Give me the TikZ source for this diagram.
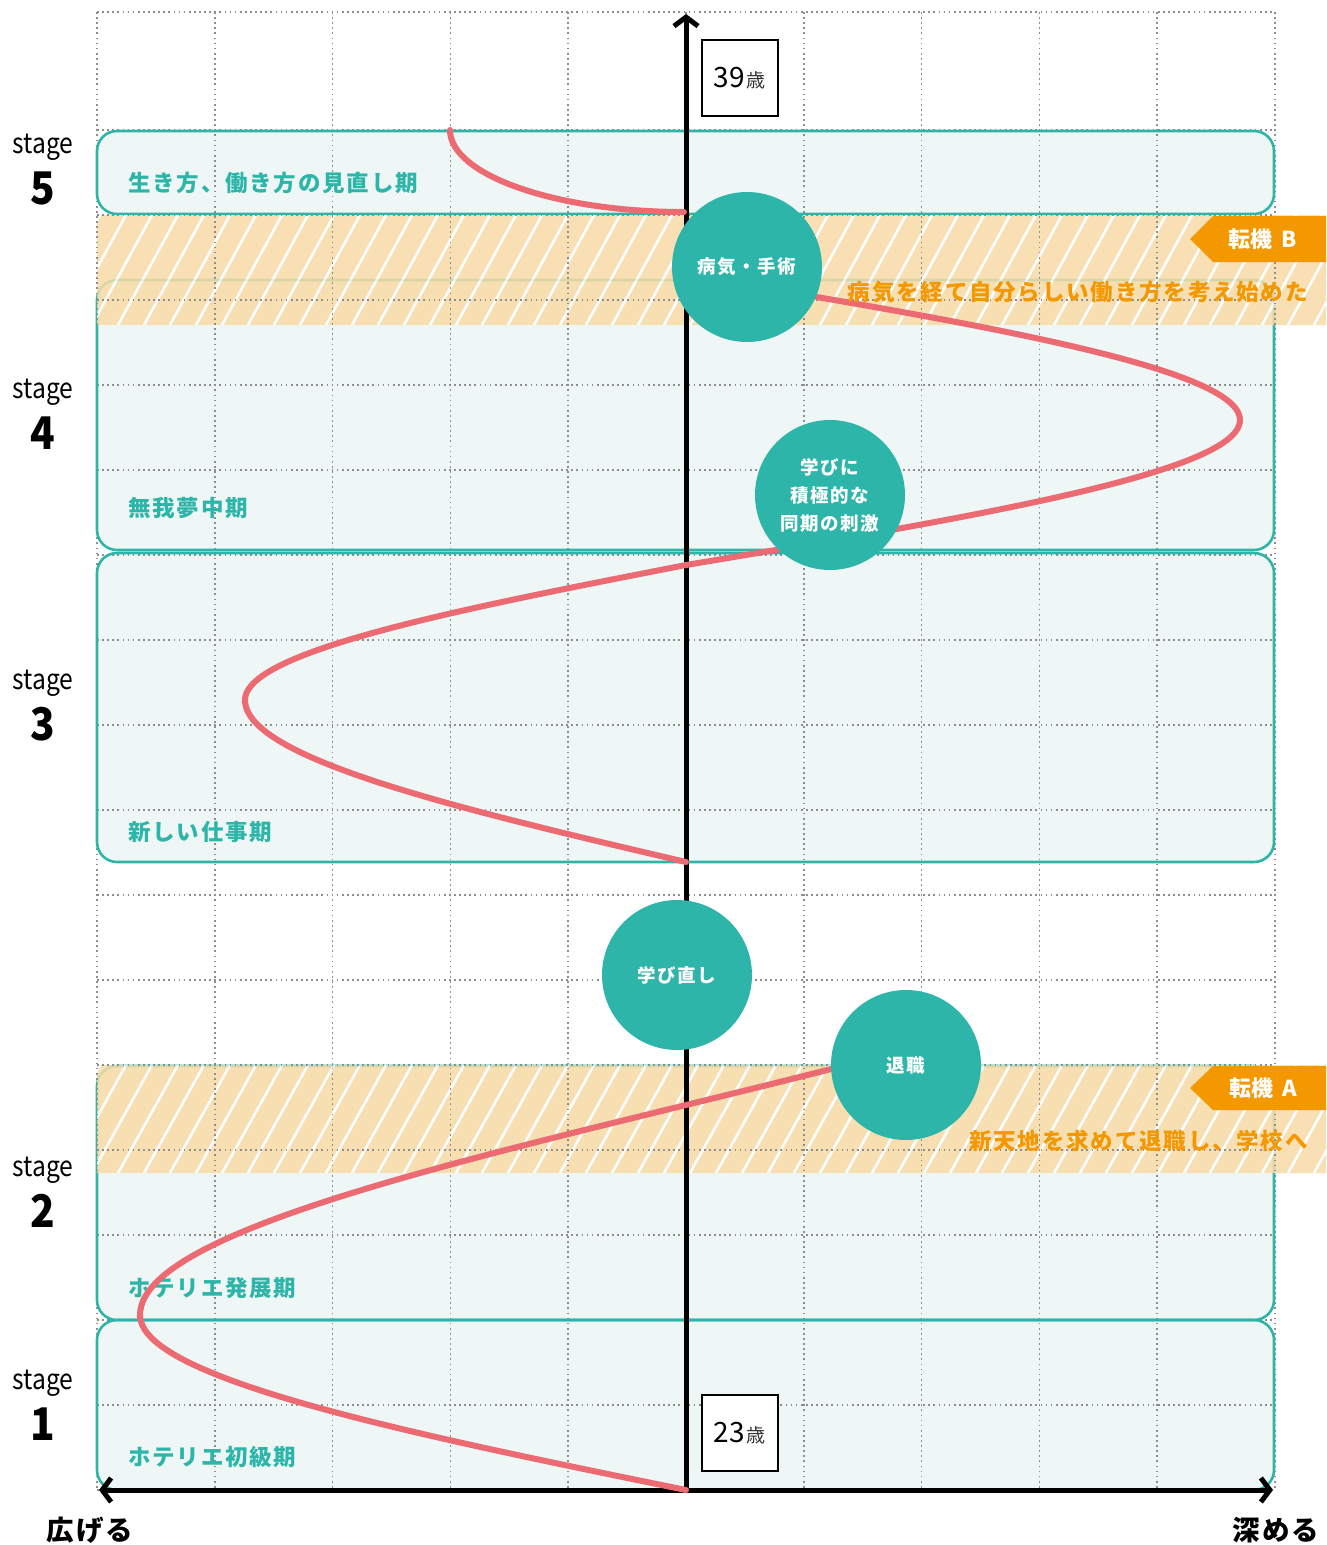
\documentclass[tikz,border=0pt]{standalone}
\usepackage{fontspec}
\setmainfont{Noto Sans CJK JP}
\newfontfamily\jpsp[LetterSpace=8]{Noto Sans CJK JP}
\usetikzlibrary{arrows.meta}
\definecolor{tealc}{HTML}{2EB5A9}
\definecolor{boxfill}{HTML}{EEF7F6}
\definecolor{bandfill}{HTML}{F9DBA7}
\definecolor{tagor}{HTML}{F39800}
\definecolor{curvered}{HTML}{EC6B73}
\definecolor{gridgray}{HTML}{8E8E8E}
\newcommand\fsz[1]{\fontsize{#1}{#1}\selectfont}
\tikzset{
  stagebox/.style={rounded corners=20pt},
  gridln/.style={gridgray, line width=1.7pt, dash pattern=on 1.7pt off 3.4pt},
  curveln/.style={curvered, line width=6pt, line cap=round},
  axisln/.style={black, line width=5pt},
  bubble/.style={circle, fill=tealc, minimum size=150pt, inner sep=0pt, text=white, font=\jpsp\bfseries\fsz{18.5}, align=center},
  bandlabel/.style={anchor=west, inner sep=0pt, text=tealc, font=\jpsp\bfseries\fsz{22.5}},
  notelabel/.style={anchor=east, inner sep=0pt, text=tagor, font=\jpsp\bfseries\fsz{22.5}},
  stagetxt/.style={inner sep=0pt, font=\fsz{28}},
  stagenum/.style={inner sep=0pt, font=\bfseries\fsz{45}},
  agebox/.style={draw=black, line width=2pt, fill=white, minimum width=76pt, minimum height=76pt, inner sep=0pt},
  tagtxt/.style={inner sep=0pt, text=white, font=\bfseries\fsz{22}},
  axlabel/.style={inner sep=0pt, font=\jpsp\bfseries\fsz{27.5}}
}
\begin{document}
\begin{tikzpicture}[x=1pt,y=-1pt]
\useasboundingbox (0,0) rectangle (1326,1545);
\fill[white] (0,0) rectangle (1326,1545);

% stage box fills
\fill[boxfill, stagebox] (97,131) rectangle (1274,214);
\fill[boxfill, stagebox] (97,280) rectangle (1274,550);
\fill[boxfill, stagebox] (97,553) rectangle (1274,862);
\fill[boxfill, stagebox] (97,1066) rectangle (1274,1320);
\fill[boxfill, stagebox] (97,1320) rectangle (1274,1490);

% grid
\foreach \i in {0,...,10} \draw[gridln] ({97+117.8*\i},12) -- ({97+117.8*\i},1490);
\draw[gridln] (97,12) -- (1275,12);
\foreach \j in {0,...,16} \draw[gridln] (97,{130+85*\j}) -- (1275,{130+85*\j});

% stage box borders
\foreach \a/\b in {131/214, 280/550, 553/862, 1066/1320, 1320/1490}
  \draw[tealc, line width=2.6pt, stagebox] (97,\a) rectangle (1274,\b);

% hatched bands
\foreach \top/\bot in {215/325, 1065/1173}{
  \begin{scope}[transparency group, opacity=0.85]
    \fill[bandfill] (97,\top) rectangle (1326,\bot);
    \begin{scope}
      \clip (97,\top) rectangle (1326,\bot);
      \foreach \k in {0,...,52}
        \draw[white, line width=2.6pt] ({40+26*\k},\bot) -- ({40+26*\k+60},\top);
    \end{scope}
  \end{scope}
  \begin{scope}
    \clip (97,\top) rectangle (1326,\bot);
    \foreach \i in {0,...,10} \draw[gridln] ({97+117.8*\i},12) -- ({97+117.8*\i},1490);
    \foreach \j in {0,...,16} \draw[gridln] (97,{130+85*\j}) -- (1275,{130+85*\j});
  \end{scope}
}

% tags
\fill[tagor] (1190,239) -- (1213,216) -- (1326,216) -- (1326,262) -- (1213,262) -- cycle;
\node[tagtxt] (tagB) at (1263,239) {転機\hspace{0.4em}B};
\fill[tagor] (1190,1088) -- (1213,1066) -- (1326,1066) -- (1326,1110) -- (1213,1110) -- cycle;
\node[tagtxt] (tagA) at (1263,1088) {転機\hspace{0.4em}A};

% band labels
\node[bandlabel] (l5) at (128,183) {生き方、働き方の見直し期};
\node[bandlabel] (l4) at (128,508) {無我夢中期};
\node[bandlabel] (l3) at (128,832) {新しい仕事期};
\node[bandlabel] (l2) at (128,1288) {ホテリエ発展期};
\node[bandlabel] (l1) at (128,1457) {ホテリエ初級期};

% stage labels
\node[stagetxt] (st5) at (43,147) {\scalebox{0.88}[1]{stage}};
\node[stagenum] (n5) at (43,188) {\scalebox{0.9}[1]{5}};
\node[stagetxt] (st4) at (43,392) {\scalebox{0.88}[1]{stage}};
\node[stagenum] (n4) at (43,433) {\scalebox{0.9}[1]{4}};
\node[stagetxt] (st3) at (43,683) {\scalebox{0.88}[1]{stage}};
\node[stagenum] (n3) at (43,724) {\scalebox{0.9}[1]{3}};
\node[stagetxt] (st2) at (43,1170) {\scalebox{0.88}[1]{stage}};
\node[stagenum] (n2) at (43,1211) {\scalebox{0.9}[1]{2}};
\node[stagetxt] (st1) at (43,1383) {\scalebox{0.88}[1]{stage}};
\node[stagenum] (n1) at (43,1424) {\scalebox{0.9}[1]{1}};

% axes
\coordinate (origin) at (686,1490);
\coordinate (top) at (686,14);
\coordinate (leftend) at (99,1490);
\coordinate (rightend) at (1273,1490);
\draw[axisln, -{Straight Barb[length=9pt,width=24pt]}] (origin) -- (top);
\draw[axisln, {Straight Barb[length=9pt,width=24pt]}-{Straight Barb[length=9pt,width=24pt]}] (leftend) -- (rightend);

% curve
\draw[curveln] plot[domain=1490:1315, samples=50, variable=\t] ({686-546*sin(0.514286*(1490-\t))},\t)
  -- plot[domain=1315:1068, samples=60, variable=\t] ({686-546*cos(0.428571*(1315-\t))},\t);
\draw[curveln] plot[domain=862:700, samples=50, variable=\t] ({686-441*sin(0.555556*(862-\t))},\t)
  -- plot[domain=700:565, samples=40, variable=\t] ({686-441*cos(0.666667*(700-\t))},\t)
  -- plot[domain=565:297, samples=80, variable=\t] ({686+554*sin(0.62069*(565-\t))},\t);
\draw[curveln] (450,130) .. controls (450,175) and (556,212) .. (684,212);

% notes
\node[notelabel] (noteB) at (1308,292) {病気を経て自分らしい働き方を考え始めた};
\node[notelabel] (noteA) at (1308,1141) {新天地を求めて退職し、学校へ};

% bubbles
\node[bubble] (b1) at (747,267) {病気・手術};
\node[bubble, align=center] (b2) at (830,495) {学びに\\[9.5pt]積極的な\\[9.5pt]同期の刺激};
\node[bubble] (b3) at (677,975) {学び直し};
\node[bubble] (b4) at (906,1065) {退職};

% age boxes
\node[agebox] (age39) at (739.5,78) {{\fsz{28}39}\hspace{2pt}{\fsz{19}\color{black!80}歳}};
\node[agebox] (age23) at (739.5,1433) {{\fsz{28}23}\hspace{2pt}{\fsz{19}\color{black!80}歳}};

% axis labels
\node[axlabel] (wide) at (90,1530) {広げる};
\node[axlabel] (deep) at (1276,1530) {深める};
\end{tikzpicture}
\end{document}
